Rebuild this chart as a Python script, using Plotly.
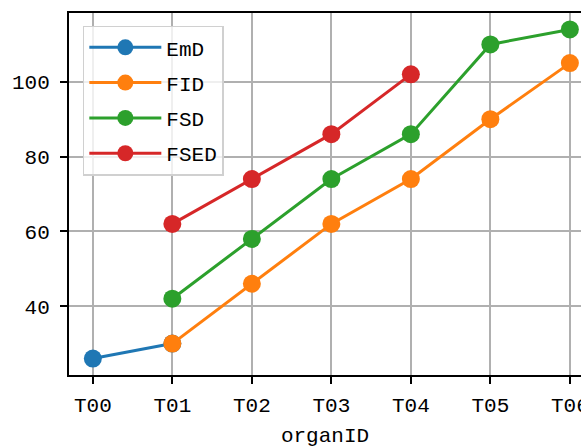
import plotly.graph_objects as go

categories = ["T00", "T01", "T02", "T03", "T04", "T05", "T06"]
emd_x = ["T00", "T01"]
emd_y = [26, 30]
fid_x = ["T01", "T02", "T03", "T04", "T05", "T06"]
fid_y = [30, 46, 62, 74, 90, 105]
fsd_x = ["T01", "T02", "T03", "T04", "T05", "T06"]
fsd_y = [42, 58, 74, 86, 110, 114]
fsed_x = ["T01", "T02", "T03", "T04"]
fsed_y = [62, 74, 86, 102]
y_ticks = [40, 60, 80, 100]

series = [
    ("EmD", emd_x, emd_y, "#1f77b4"),
    ("FID", fid_x, fid_y, "#ff7f0e"),
    ("FSD", fsd_x, fsd_y, "#2ca02c"),
    ("FSED", fsed_x, fsed_y, "#d62728"),
]

FONT = "Liberation Mono"
FS = 21
fig = go.Figure()
for name, xs, ys, color in series:
    idx = [categories.index(c) for c in xs]
    fig.add_trace(go.Scatter(
        x=idx, y=ys, name=name, mode="lines+markers", legendgroup=name,
        line=dict(color=color, width=3),
        marker=dict(color=color, size=18),
    ))

fig.update_layout(
    width=581, height=448,
    margin=dict(l=69, r=0, t=13, b=73),
    plot_bgcolor="white", paper_bgcolor="white",
    font=dict(family=FONT, size=FS, color="black"),
    showlegend=True,
    legend=dict(
        x=0.027, y=0.965, xanchor="left", yanchor="top",
        bgcolor="rgba(255,255,255,0.8)", bordercolor="#d0d0d0", borderwidth=1.5,
        font=dict(family=FONT, size=FS), itemwidth=72, tracegroupgap=5,
    ),
    xaxis=dict(
        range=[-0.3, 6.14], tickmode="array",
        tickvals=list(range(len(categories))), ticktext=categories,
        showgrid=True, gridcolor="#b0b0b0", gridwidth=1.6,
        showline=True, linecolor="black", linewidth=2, mirror=True,
        ticks="outside", ticklen=7, tickwidth=2, tickcolor="black",
        ticklabelstandoff=3, ticklabeloverflow="allow",
        zeroline=False, automargin=False,
        title=dict(text="organID", standoff=10, font=dict(family=FONT, size=FS)),
    ),
    yaxis=dict(
        range=[21.6, 118.4], tickvals=y_ticks,
        showgrid=True, gridcolor="#b0b0b0", gridwidth=1.6,
        showline=True, linecolor="black", linewidth=2,
        ticks="outside", ticklen=7, tickwidth=2, tickcolor="black",
        ticklabelstandoff=6,
        zeroline=False, automargin=False,
    ),
)
fig.write_html("out.html", config={"displayModeBar": False},
               post_script="document.body.style.margin='0';document.body.style.padding='0';")
